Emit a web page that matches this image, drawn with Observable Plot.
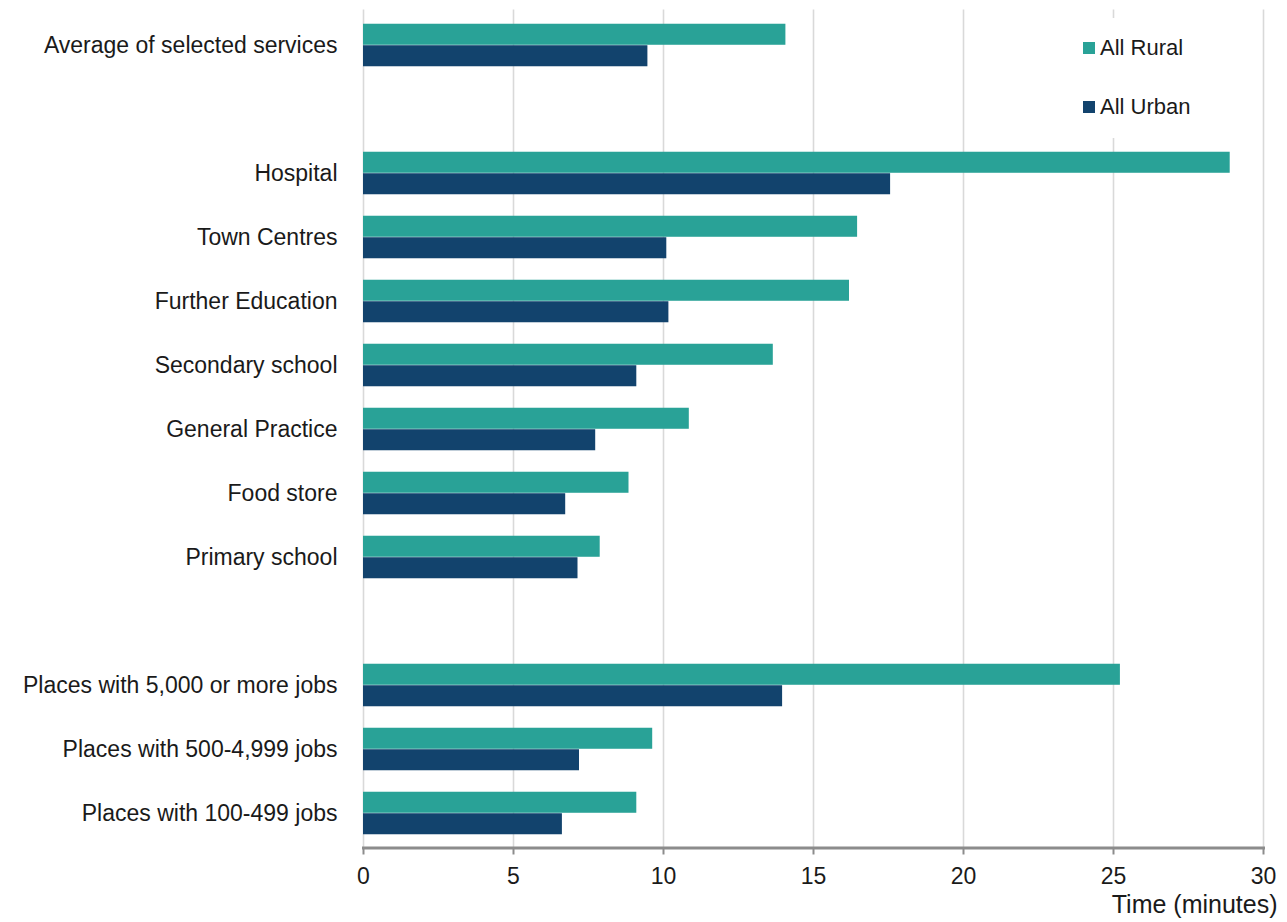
<!DOCTYPE html>
<html>
<head>
<meta charset="utf-8">
<script src="https://cdn.jsdelivr.net/npm/d3@7"></script>
<script src="https://cdn.jsdelivr.net/npm/@observablehq/plot@0.6"></script>
<style>
  html, body { margin: 0; padding: 0; background: #fff; }
  #wrap { position: relative; width: 1287px; height: 922px; font-family: "Liberation Sans", Arial, sans-serif; }
  #legend { position: absolute; left: 1076px; top: 18px; width: 176px; height: 120px; background: #fff; }
  .item { position: absolute; left: 7px; display: flex; align-items: center; font-size: 22px; color: #1a1a1a; white-space: nowrap; }
  .sw { width: 12px; height: 12px; margin-right: 5px; }
</style>
</head>
<body>
<div id="wrap"></div>
<script>
// ---- data ----
const categories = [
  "Average of selected services",
  "Hospital",
  "Town Centres",
  "Further Education",
  "Secondary school",
  "General Practice",
  "Food store",
  "Primary school",
  "Places with 5,000 or more jobs",
  "Places with 500-4,999 jobs",
  "Places with 100-499 jobs"
];
const rural = [14.08, 28.89, 16.47, 16.2, 13.66, 10.86, 8.85, 7.89, 25.23, 9.64, 9.11];
const urban = [9.48, 17.57, 10.11, 10.18, 9.11, 7.74, 6.74, 7.15, 13.97, 7.2, 6.63];
const series = ["All Rural", "All Urban"];
const colors = ["#29a297", "#12436d"];
const xTicks = [0, 5, 10, 15, 20, 25, 30];
const xTitle = "Time (minutes)";
// row order with blank spacer rows between groups
const rowOrder = [
  categories[0], "spacer-1",
  categories[1], categories[2], categories[3], categories[4], categories[5], categories[6], categories[7],
  "spacer-2",
  categories[8], categories[9], categories[10]
];

// long table
const table = [];
categories.forEach((c, i) => {
  table.push({category: c, series: series[0], value: rural[i]});
  table.push({category: c, series: series[1], value: urban[i]});
});

// ---- layout ----
const W = 1287, H = 922, mt = 9.5, mb = 74.5, ml = 363, mr = 24;
const step = (H - mt - mb) / rowOrder.length;
const barH = step / 3;

const font = '"Liberation Sans", Arial, sans-serif';

const plot = Plot.plot({
  width: W,
  height: H,
  marginTop: mt,
  marginBottom: mb,
  marginLeft: ml,
  marginRight: mr,
  style: {fontFamily: font, fontSize: "23px", color: "#1a1a1a", background: "#fff"},
  x: {domain: [0, 30]},
  y: {domain: rowOrder, padding: 0},
  color: {domain: series, range: colors},
  marks: [
    Plot.gridX(xTicks, {stroke: "#d9d9d9", strokeOpacity: 1, strokeWidth: 1.6}),
    Plot.barX(table.filter(d => d.series === series[0]), {
      x: "value", y: "category", fill: "series",
      insetTop: step / 2 - barH, insetBottom: step / 2
    }),
    Plot.barX(table.filter(d => d.series === series[1]), {
      x: "value", y: "category", fill: "series",
      insetTop: step / 2, insetBottom: step / 2 - barH
    }),
    Plot.frame({anchor: "bottom", stroke: "#8c8c8c", strokeWidth: 3}),
    Plot.axisX({
      ticks: xTicks, tickSize: 7, tickPadding: 13, stroke: "#8c8c8c", strokeWidth: 2,
      fontSize: 23, label: null
    }),
    Plot.text([xTitle], {
      frameAnchor: "bottom-right", textAnchor: "end", lineAnchor: "middle",
      dx: 14, dy: 57, fontSize: 25, fill: "#1a1a1a"
    }),
    Plot.axisY({
      tickSize: 0, tickPadding: 26, fontSize: 23, label: null,
      tickFormat: d => d.startsWith("spacer") ? "" : d
    })
  ]
});

const wrap = document.getElementById("wrap");
wrap.appendChild(plot);

// legend (vertical, inside plot area, top-right)
const color = plot.scale("color");
const legend = document.createElement("div");
legend.id = "legend";
color.domain.forEach((s, i) => {
  const item = document.createElement("div");
  item.className = "item";
  item.style.top = (i === 0 ? 17 : 76) + "px";
  const sw = document.createElement("span");
  sw.className = "sw";
  sw.style.background = color.range[i];
  item.appendChild(sw);
  item.appendChild(document.createTextNode(s));
  legend.appendChild(item);
});
wrap.appendChild(legend);
</script>
</body>
</html>
